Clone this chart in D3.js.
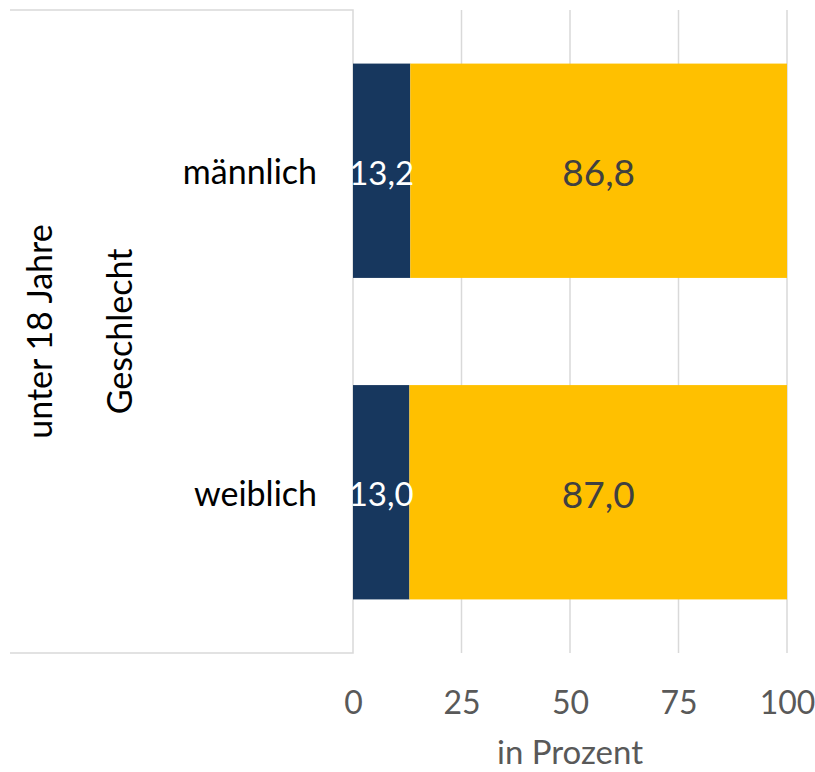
<!DOCTYPE html>
<html><head><meta charset="utf-8">
<script src="https://cdn.jsdelivr.net/npm/d3@7"></script>
<style>body{margin:0;background:#fff;}svg{display:block;font-family:Lato,"Open Sans",sans-serif;}</style>
</head><body>
<svg id="c" width="815" height="772"></svg>
<script>
const categories = ["männlich", "weiblich"];
const seriesNames = ["ja", "nein"];
const valuesA = [13.2, 13.0];
const valuesB = [86.8, 87.0];
const labelsA = ["13,2", "13,0"];
const labelsB = ["86,8", "87,0"];
const ticks = [0, 25, 50, 75, 100];
const groupLabel = "Geschlecht";
const outerLabel = "unter 18 Jahre";
const axisTitle = "in Prozent";
const colors = ["#17375e", "#ffc000"];
const textColors = ["#ffffff", "#404040"];

(function () {
const svg = d3.select("#c");
const pLeft = 353, pRight = 787, pTop = 10, pBottom = 653;
const x = d3.scaleLinear().domain([0, 100]).range([pLeft, pRight]);
const y = d3.scaleBand().domain(categories).range([pTop, pBottom]).paddingInner(1/3).paddingOuter(1/6);

svg.append("g").selectAll("line").data(ticks.slice(1)).join("line")
  .attr("x1", d => x(d)).attr("x2", d => x(d)).attr("y1", pTop).attr("y2", pBottom)
  .attr("stroke", "#d9d9d9").attr("stroke-width", 1.5);

svg.append("path").attr("d", `M10,${pTop}H${pLeft}V${pBottom}H10`)
  .attr("fill", "none").attr("stroke", "#d9d9d9").attr("stroke-width", 1.5);

const rows = categories.map((c, i) => ({c, parts: [
  {x0: 0, x1: valuesA[i], s: 0, label: labelsA[i]},
  {x0: valuesA[i], x1: valuesA[i] + valuesB[i], s: 1, label: labelsB[i]}
]}));

const g = svg.append("g");
rows.forEach(r => {
  r.parts.forEach(p => {
    g.append("rect").attr("x", x(p.x0)).attr("width", x(p.x1) - x(p.x0))
      .attr("y", y(r.c)).attr("height", y.bandwidth()).attr("fill", colors[p.s]);
  });
  r.parts.forEach(p => {
    g.append("text").attr("x", (x(p.x0) + x(p.x1)) / 2).attr("y", y(r.c) + y.bandwidth() / 2 + 1)
      .attr("text-anchor", "middle").attr("dominant-baseline", "central")
      .attr("font-size", p.s === 0 ? 33 : 37).attr("fill", textColors[p.s]).text(p.label);
  });
  svg.append("text").attr("x", 317).attr("y", y(r.c) + y.bandwidth() / 2)
    .attr("text-anchor", "end").attr("dominant-baseline", "central")
    .attr("font-size", 34).attr("fill", "#000").text(r.c);
});

const midY = (pTop + pBottom) / 2;
svg.append("text").attr("transform", `translate(118,${midY}) rotate(-90)`)
  .attr("text-anchor", "middle").attr("dominant-baseline", "central")
  .attr("font-size", 34).attr("fill", "#000").text(groupLabel);
svg.append("text").attr("transform", `translate(38,${midY}) rotate(-90)`)
  .attr("text-anchor", "middle").attr("dominant-baseline", "central")
  .attr("font-size", 34).attr("fill", "#000").text(outerLabel);

const ax = svg.append("g").attr("transform", `translate(0,${pBottom})`)
  .call(d3.axisBottom(x).tickValues(ticks).tickSize(0).tickPadding(38).tickFormat(d3.format("d")));
ax.select(".domain").remove();
ax.selectAll("text").attr("font-size", 32).attr("fill", "#595959").attr("font-family", "Lato,sans-serif");

svg.append("text").attr("x", (pLeft + pRight) / 2).attr("y", 751)
  .attr("text-anchor", "middle").attr("dominant-baseline", "central")
  .attr("font-size", 33).attr("fill", "#595959").text(axisTitle);
})();
</script>
</body></html>
